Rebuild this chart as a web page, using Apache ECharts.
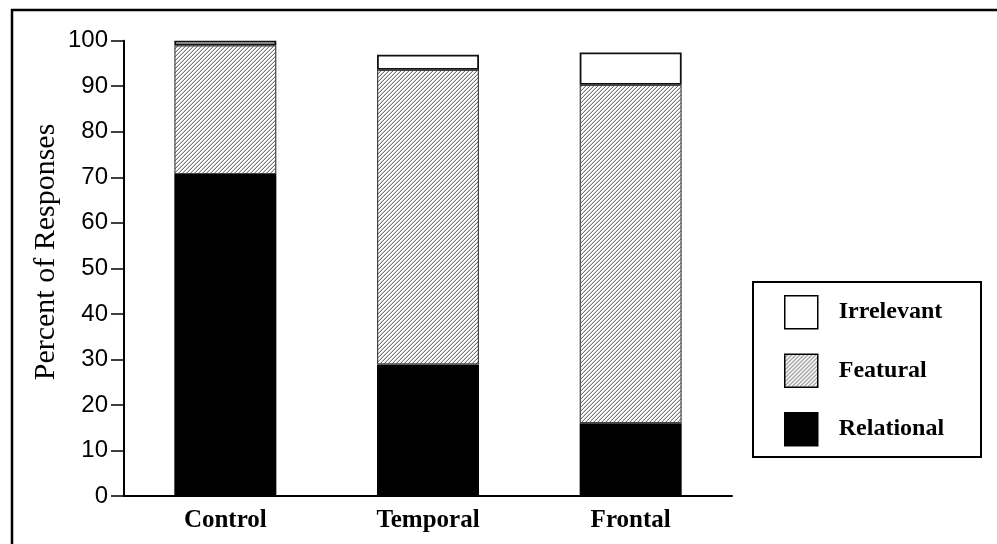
<!DOCTYPE html>
<html>
<head>
<meta charset="utf-8">
<script src="https://cdn.jsdelivr.net/npm/echarts@6/dist/echarts.min.js"></script>
<style>
html,body{margin:0;padding:0;background:#fff;}
#chart{width:997px;height:544px;}
</style>
</head>
<body>
<div id="chart"></div>
<script>
// ---- data ----
var categories = ['Control', 'Temporal', 'Frontal'];
var relational = [70.7, 28.9, 16.0];
var featural = [28.3, 64.7, 74.3];
var irrelevant = [1.0, 3.3, 7.1];
var yTicks = [0, 10, 20, 30, 40, 50, 60, 70, 80, 90, 100];
var seriesNames = ['Relational', 'Featural', 'Irrelevant'];
var yTitle = 'Percent of Responses';

// hatch pattern
function makeHatch() {
  var c = document.createElement('canvas');
  c.width = 4; c.height = 4;
  var ctx = c.getContext('2d');
  var img = ctx.createImageData(4, 4);
  for (var y = 0; y < 4; y++) {
    for (var x = 0; x < 4; x++) {
      var k = (x + y) % 4;
      var v = k === 3 ? 120 : (k === 2 ? 210 : 255);
      var i = (y * 4 + x) * 4;
      img.data[i] = v; img.data[i + 1] = v; img.data[i + 2] = v; img.data[i + 3] = 255;
    }
  }
  ctx.putImageData(img, 0, 0);
  return c;
}
var hatch = { image: makeHatch(), repeat: 'repeat' };

var chart = echarts.init(document.getElementById('chart'), null, { renderer: 'canvas' });
var option = {
  backgroundColor: '#fff',
  animation: false,
  grid: { left: 124, right: 265, top: 40.7, bottom: 48, containLabel: false },
  xAxis: {
    type: 'category',
    data: categories,
    axisLine: { lineStyle: { color: '#000', width: 2 } },
    axisTick: { show: false },
    axisLabel: {
      color: '#000', fontFamily: 'Liberation Serif', fontWeight: 'bold', fontSize: 25, margin: 12
    }
  },
  yAxis: {
    type: 'value',
    min: 0, max: 100, interval: 10,
    splitLine: { show: false },
    axisLine: { show: true, lineStyle: { color: '#000', width: 2 } },
    axisTick: { show: true, length: 13, lineStyle: { color: '#000', width: 1.5 } },
    axisLabel: {
      color: '#000', fontFamily: 'Liberation Sans', fontSize: 24, margin: 16,
      formatter: function (v) { return yTicks.indexOf(v) >= 0 ? String(v) : ''; }
    }
  },
  legend: {
    orient: 'vertical',
    left: 784, top: 295,
    data: ['Irrelevant', 'Featural', 'Relational'],
    icon: 'rect',
    itemWidth: 33, itemHeight: 33, itemGap: 24,
    padding: 0,
    selectedMode: false,
    itemStyle: { borderColor: '#000', borderWidth: 1.5 },
    textStyle: {
      color: '#000', fontFamily: 'Liberation Serif', fontWeight: 'bold', fontSize: 24,
      padding: [0, 0, 0, 16]
    }
  },
  graphic: [
    { type: 'polyline', shape: { points: [[12, 560], [12, 10], [1010, 10]] },
      style: { stroke: '#000', lineWidth: 2.5, fill: null }, silent: true },
    { type: 'rect', shape: { x: 753, y: 282, width: 228, height: 175 },
      style: { stroke: '#000', lineWidth: 2, fill: null }, silent: true, z: 10 },
    { type: 'text', x: 46, y: 252, rotation: Math.PI / 2,
      style: { text: yTitle, font: '30px "Liberation Serif"', fill: '#000', align: 'center', verticalAlign: 'middle' } }
  ],
  series: [
    { name: seriesNames[0], type: 'bar', stack: 'a', data: relational, barWidth: 102,
      itemStyle: { color: '#000', borderColor: '#000', borderWidth: 0 } },
    { name: seriesNames[1], type: 'bar', stack: 'a', data: featural, barWidth: 102,
      itemStyle: { color: hatch, borderColor: '#444', borderWidth: 1.2 } },
    { name: seriesNames[2], type: 'bar', stack: 'a', data: irrelevant, barWidth: 102,
      itemStyle: { color: '#fff', borderColor: '#111', borderWidth: 1.8 } }
  ]
};
chart.setOption(option);
</script>
</body>
</html>
